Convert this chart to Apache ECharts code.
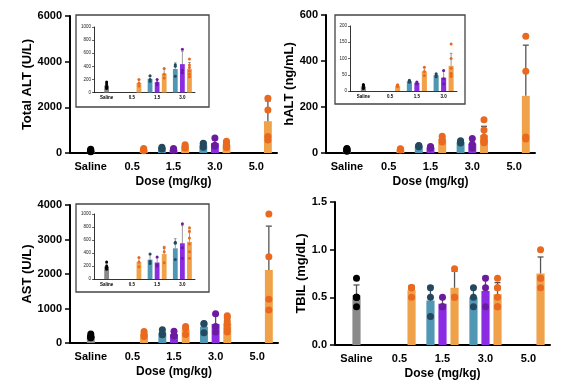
<!DOCTYPE html>
<html><head><meta charset="utf-8">
<script src="https://cdn.jsdelivr.net/npm/echarts@6/dist/echarts.min.js"></script>
<style>html,body{margin:0;padding:0;background:#fff}#c{width:571px;height:388px}</style>
</head><body><div id="c"></div><script>
// ---------- data ----------
const categories = ['Saline', '0.5', '1.5', '3.0', '5.0'];
const insetCategories = ['Saline', '0.5', '1.5', '3.0'];
// each group: category index and treatment type
const groupCategory = [0, 1, 2, 2, 2, 3, 3, 3, 4];
const groupType = ['saline', 'orange', 'teal', 'purple', 'orange', 'teal', 'purple', 'orange', 'orange'];
// individual animal values per group
const altPoints = [[160,130,100,80,60],[200,140,100],[255,200,170],[200,150,120],[365,280,220],[425,400,250],[660,340,300],[510,420,380,330,280,240],[2400,1880,720,570]];
const haltPoints = [[20,17,14,10,8],[19,16,13],[33,30,27],[28,25,22],[73,60,48],[53,48,44],[63,38,22],[145,100,70,55,50,45],[508,355,70,61]];
const astPoints = [[260,200,180,170,150],[330,260,190],[385,270,240],[340,220,200],[480,420,250],[565,550,300],[850,480,320],[790,730,630,540,420,320],[3740,2500,1270,960]];
const tbilPoints = [[0.7,0.5,0.5,0.5,0.4],[0.6,0.6,0.6,0.5],[0.6,0.5,0.3],[0.5,0.4,0.4],[0.8,0.5,0.5],[0.6,0.5,0.4],[0.7,0.6,0.4],[0.7,0.6,0.6,0.5,0.4,0.4],[1.0,0.7,0.7,0.6]];
const altTicks = [0, 6000, 2000], haltTicks = [0, 600, 200], astTicks = [0, 4000, 1000], tbilTicks = [0, 1.5, 0.5];
const altInsetTicks = [0, 1000, 200], haltInsetTicks = [0, 200, 50], astInsetTicks = [0, 1000, 200];

// ---------- style ----------
const FONT = "'Liberation Sans', Arial, sans-serif";
const barColor = {saline:'#8a8a8a', teal:'#4f97b3', purple:'#8b2be2', orange:'#f0a24a'};
const dotColor = {saline:'#000000', teal:'#24495f', purple:'#6b1c9e', orange:'#e8691f'};
const slotOf = {saline:0, teal:-0.28, purple:0, orange:0.28};

function mean(a){ return a.reduce((s,v)=>s+v,0)/a.length; }
function sd(a){ const m=mean(a); return Math.sqrt(a.reduce((s,v)=>s+(v-m)*(v-m),0)/(a.length-1)); }

function barData(points, maxCat){
  const out=[];
  points.forEach((p,i)=>{ if(groupCategory[i]<=maxCat) out.push({value:[groupCategory[i], mean(p), sd(p), slotOf[groupType[i]]], t:groupType[i]}); });
  return out;
}
function dotData(points, maxCat){
  const out=[];
  points.forEach((p,i)=>{ if(groupCategory[i]<=maxCat) p.forEach(v=>out.push({value:[groupCategory[i], v, slotOf[groupType[i]]], t:groupType[i]})); });
  return out;
}

function barRenderer(data, wFrac, cap, lw){
  return function(params, api){
    const cat=api.value(0), m=api.value(1), s=api.value(2), slot=api.value(3);
    const t=data[params.dataIndex].t;
    const band=api.size([1,0])[0];
    const top=api.coord([cat,m]), base=api.coord([cat,0]), et=api.coord([cat,m+s]);
    const cx=top[0]+slot*band, w=band*wFrac;
    return {type:'group', children:[
      {type:'rect', shape:{x:cx-w/2, y:top[1], width:w, height:base[1]-top[1]}, style:{fill:barColor[t]}},
      {type:'line', shape:{x1:cx,y1:top[1],x2:cx,y2:et[1]}, style:{stroke:'#555',lineWidth:lw}},
      {type:'line', shape:{x1:cx-cap,y1:et[1],x2:cx+cap,y2:et[1]}, style:{stroke:'#555',lineWidth:lw}}
    ]};
  };
}
function dotRenderer(data, r){
  return function(params, api){
    const cat=api.value(0), v=api.value(1), slot=api.value(2);
    const t=data[params.dataIndex].t;
    const band=api.size([1,0])[0];
    const p=api.coord([cat,v]);
    return {type:'circle', shape:{cx:p[0]+slot*band, cy:p[1], r:r}, style:{fill:dotColor[t]}};
  };
}

const grids=[], xAxes=[], yAxes=[], series=[];
function addPanel(g, cats, ticks, points, main, name, nameGap, fmt){
  const gi=grids.length;
  grids.push(g);
  xAxes.push({type:'category', gridIndex:gi, data:cats, boundaryGap:true,
    name: main?'Dose (mg/kg)':'', nameLocation:'middle', nameGap:main?23:0,
    nameTextStyle:{fontFamily:FONT, fontWeight:'bold', fontSize:12, color:'#000'},
    axisLine:{lineStyle:{color:'#000', width:main?2:0.8}},
    axisTick:{alignWithLabel:true, length:main?5:2, lineStyle:{width:main?1.5:0.6, color:'#000'}},
    axisLabel:{interval:0, fontFamily:FONT, fontWeight:'bold', fontSize:main?11:4.5, color:'#000', margin:main?8:3}
  });
  yAxes.push({type:'value', gridIndex:gi, min:ticks[0], max:ticks[1], interval:ticks[2],
    name:name||'', nameLocation:'middle', nameGap:nameGap||0,
    nameTextStyle:{fontFamily:FONT, fontWeight:'bold', fontSize:13, color:'#000'},
    splitLine:{show:false},
    axisLine:{show:true, lineStyle:{color:'#000', width:main?2:0.8}},
    axisTick:{show:true, length:main?5:2, lineStyle:{width:main?1.5:0.6, color:'#000'}},
    axisLabel:{fontFamily:FONT, fontWeight:main?'bold':'normal', fontSize:main?11:4.5, color:main?'#000':'#222', margin:main?8:3, formatter:fmt||(v=>String(v))}
  });
  const maxCat=cats.length-1;
  const bd=barData(points,maxCat), dd=dotData(points,maxCat);
  series.push({type:'custom', xAxisIndex:gi, yAxisIndex:gi, data:bd, renderItem:barRenderer(bd,0.19,main?3:1.3,main?1.3:0.6), encode:{x:0,y:1}, z:2, silent:true});
  series.push({type:'custom', xAxisIndex:gi, yAxisIndex:gi, data:dd, renderItem:dotRenderer(dd,main?3.5:1.5), encode:{x:0,y:1}, z:3, silent:true});
}

addPanel({left:70, top:16, width:207, height:137}, categories, altTicks, altPoints, true, 'Total ALT (U/L)', 33);
addPanel({left:326, top:15, width:209, height:138}, categories, haltTicks, haltPoints, true, 'hALT (ng/mL)', 27);
addPanel({left:70, top:205, width:208, height:138}, categories, astTicks, astPoints, true, 'AST (U/L)', 33);
addPanel({left:335, top:202, width:215, height:143}, categories, tbilTicks, tbilPoints, true, 'TBIL (mg/dL)', 26, v=>v.toFixed(1));
addPanel({left:94, top:27, width:101, height:65.5}, insetCategories, altInsetTicks, altPoints, false);
addPanel({left:350, top:26, width:107, height:65}, insetCategories, haltInsetTicks, haltPoints, false);
addPanel({left:94, top:214, width:101, height:65}, insetCategories, astInsetTicks, astPoints, false);

const chart=echarts.init(document.getElementById('c'), null, {renderer:'canvas'});
chart.setOption({
  animation:false,
  backgroundColor:'#fff',
  grid:grids, xAxis:xAxes, yAxis:yAxes, series:series,
  graphic:[
    {type:'rect', shape:{x:76, y:15, width:133, height:92}, style:{fill:'none', stroke:'#444', lineWidth:1.3}, z:1},
    {type:'rect', shape:{x:335, y:15, width:130, height:89}, style:{fill:'none', stroke:'#444', lineWidth:1.3}, z:1},
    {type:'rect', shape:{x:76, y:204, width:133, height:88}, style:{fill:'none', stroke:'#444', lineWidth:1.3}, z:1}
  ]
});
</script></body></html>
